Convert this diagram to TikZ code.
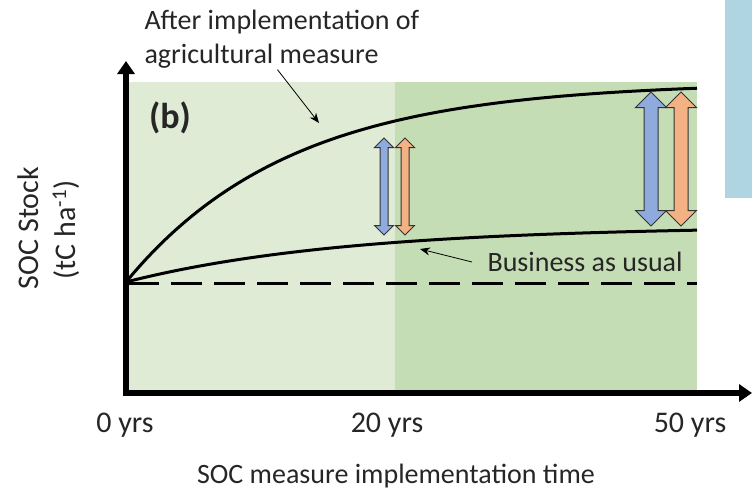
\documentclass[tikz,border=0pt]{standalone}
\usepackage{fontspec}
\setmainfont{Carlito}
\usetikzlibrary{positioning}
\usetikzlibrary{arrows.meta}
\usetikzlibrary{shapes.arrows}

\definecolor{palegreen}{HTML}{DFEBD5}
\definecolor{midgreen}{HTML}{C5DDB5}
\definecolor{boxblue}{HTML}{AED5E1}
\definecolor{gainblue}{HTML}{8FAADC}
\definecolor{gainorange}{HTML}{F4B183}
\definecolor{inkgray}{HTML}{262626}

\begin{document}
\begin{tikzpicture}[x=1pt,y=-1pt,
      axis/.style={line width=6pt,-{Triangle[length=13pt,width=17pt]}},
      curve/.style={line width=3pt},
      note/.style={line width=0.8pt,-{Stealth[length=10pt,width=8pt]}},
      lbl/.style={font=\fontsize{28}{32}\selectfont,text=inkgray},
      tick/.style={font=\fontsize{30}{34}\selectfont,text=inkgray},
      gain/.style={double arrow,draw=black!80,line width=1pt,rotate=90,
                   inner xsep=0pt,double arrow head extend=#1},
    ]
        \useasboundingbox (0,0) rectangle (752,490);
        % backgrounds
        \fill[boxblue] (725,0) rectangle (752,198);
        \fill[palegreen] (128,82) rectangle (395,391);
        \fill[midgreen] (395,82) rectangle (697,391);

        % curves
        \draw[curve] plot[domain=0:571,samples=80,smooth]
            ({126+\x},{282-200*(1-exp(-3.47*\x/571))});
        \draw[curve] plot[domain=0:571,samples=80,smooth]
            ({126+\x},{282-56*(1-exp(-2.6*\x/571))});
        \draw[line width=3pt,dash pattern=on 31pt off 12pt] (128,283) -- (697,283);

        % gain arrows
        \node[gain=5.5pt,fill=gainblue,inner ysep=3.5pt,minimum height=97pt] (blue20) at (384,186.5) {};
        \node[gain=5.5pt,fill=gainorange,inner ysep=3.5pt,minimum height=97pt] (orange20) at (405,186.5) {};
        \node[gain=8.5pt,fill=gainblue,inner ysep=6.5pt,minimum height=134pt] (blue50) at (651,159) {};
        \node[gain=8.5pt,fill=gainorange,inner ysep=6.5pt,minimum height=134pt] (orange50) at (681,159) {};

        % axes
        \coordinate (origin) at (126,393);
        \coordinate (ytop) at (126,61);
        \coordinate (xend) at (752,393);
        \draw[axis] ([yshift=3pt]origin) -- (ytop);
        \draw[axis] ([xshift=-3pt]origin) -- (xend);

        % labels
        \node[font=\bfseries\fontsize{36}{40}\selectfont,text=inkgray] (panel) at (170,118) {(b)};
        \node[lbl,anchor=west] (after) at (141,22) {After implementation of};
        \node[lbl,anchor=west] (agri) at (141,56) {agricultural measure};
        \coordinate (uptip) at (319,123);
        \draw[note] ([xshift=16pt,yshift=2pt]agri.south) -- (uptip);
        \node[lbl,anchor=west] (bau) at (484,262) {Business as usual};
        \coordinate (bautip) at (420,249);
        \draw[note] ([xshift=-12pt,yshift=0pt]bau.west) -- (bautip);

        \node[tick] (t0) at (125,425) {0 yrs};
        \node[tick] (t20) at (387,425) {20 yrs};
        \node[tick] (t50) at (690,425) {50 yrs};
        \node[lbl] (xlab) at (396,476) {SOC measure implementation time};
        \node[tick,rotate=90] (ylab) at (28,228) {SOC Stock};
        \node[tick,rotate=90] (yunit) at (66,230) {(tC ha\textsuperscript{-1})};
    \end{tikzpicture}
\end{document}
